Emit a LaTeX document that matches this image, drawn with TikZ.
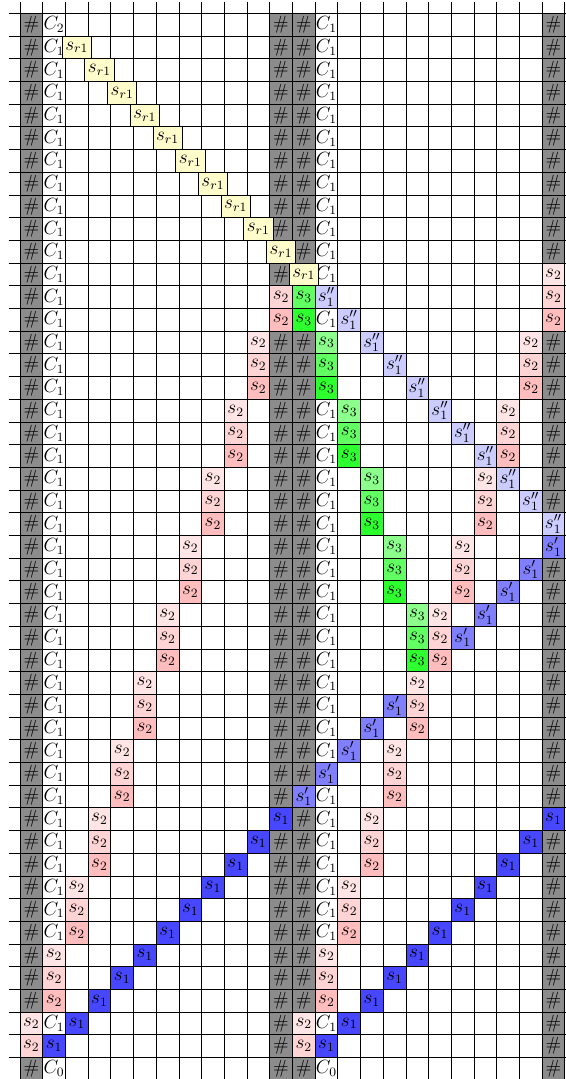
\documentclass[tikz,border=0pt]{standalone}
\definecolor{hashgray}{gray}{0.55}
\tikzset{
  x=0.5cm, y=0.5cm,
  gridln/.style={draw=black, line width=0.4pt},
  cellbase/.style={draw=black, line width=0.4pt, minimum size=0.5cm,
    inner xsep=1pt, inner ysep=0pt, anchor=center, font=\large},
  hs/.style={fill=hashgray},
  cn/.style={draw=none},
  sr/.style={fill=yellow!20, inner xsep=2pt},
  pk1/.style={fill=red!10}, pk2/.style={fill=red!17}, pk3/.style={fill=red!26},
  gr1/.style={fill=green!45}, gr2/.style={fill=green!62}, gr3/.style={fill=green!82},
  bA/.style={fill=blue!72}, bB/.style={fill=blue!50}, bC/.style={fill=blue!20},
}
\newcommand\cellat[4]{\node[cellbase,#3] (n#1x#2) at ({#2+0.5},{-#1-0.5}) {$#4$};}
\newcommand\cHash[2]{\cellat{#1}{#2}{hs}{\#}}
\newcommand\cCone[2]{\cellat{#1}{#2}{cn}{C_1}}
\newcommand\cPink[3]{\cellat{#1}{#2}{pk#3}{s_2}}
\newcommand\cGreen[3]{\cellat{#1}{#2}{gr#3}{s_3}}
\newcommand\cBa[2]{\cellat{#1}{#2}{bA}{s_1}}
\newcommand\cBb[2]{\cellat{#1}{#2}{bB}{s_1'}}
\newcommand\cBc[2]{\cellat{#1}{#2}{bC}{s_1''}}
\newcommand\cSr[2]{\cellat{#1}{#2}{sr}{s_{r1}}}
\begin{document}
\begin{tikzpicture}
\useasboundingbox (-0.881,0.586) rectangle (24.05,-46.95);
\clip (-0.881,0.586) rectangle (24.05,-46.95);
% grid
\foreach \r in {0,...,46} \draw[gridln] (-0.5,-\r) -- (24.5,-\r);
\foreach \c in {0,...,24} \draw[gridln] (\c,0.5) -- (\c,-47.5);
% row 0
\cHash{0}{0}\cellat{0}{1}{cn}{C_2}\cHash{0}{11}\cHash{0}{12}\cCone{0}{13}\cHash{0}{23}
% rows 1-9
\foreach \r in {1,...,9}{%
  \pgfmathtruncatemacro\k{\r+1}%
  \cHash{\r}{0}\cCone{\r}{1}\cHash{\r}{11}\cHash{\r}{12}\cCone{\r}{13}\cHash{\r}{23}%
  \cSr{\r}{\k}%
}
\cHash{10}{0}\cCone{10}{1}\cHash{10}{12}\cCone{10}{13}\cHash{10}{23}\cSr{10}{11}
\cHash{11}{0}\cCone{11}{1}\cHash{11}{11}\cCone{11}{13}\cPink{11}{23}{1}\cSr{11}{12}
\cHash{12}{0}\cCone{12}{1}\cPink{12}{11}{2}\cGreen{12}{12}{2}\cBc{12}{13}\cPink{12}{23}{2}
\cHash{13}{0}\cCone{13}{1}\cPink{13}{11}{3}\cGreen{13}{12}{3}\cCone{13}{13}\cBc{13}{14}\cPink{13}{23}{3}
\cHash{14}{0}\cCone{14}{1}\cPink{14}{10}{1}\cHash{14}{11}\cHash{14}{12}\cGreen{14}{13}{1}\cBc{14}{15}\cPink{14}{22}{1}\cHash{14}{23}
\cHash{15}{0}\cCone{15}{1}\cPink{15}{10}{2}\cHash{15}{11}\cHash{15}{12}\cGreen{15}{13}{2}\cBc{15}{16}\cPink{15}{22}{2}\cHash{15}{23}
\cHash{16}{0}\cCone{16}{1}\cPink{16}{10}{3}\cHash{16}{11}\cHash{16}{12}\cGreen{16}{13}{3}\cBc{16}{17}\cPink{16}{22}{3}\cHash{16}{23}
\cHash{17}{0}\cCone{17}{1}\cPink{17}{9}{1}\cHash{17}{11}\cHash{17}{12}\cCone{17}{13}\cGreen{17}{14}{1}\cBc{17}{18}\cPink{17}{21}{1}\cHash{17}{23}
\cHash{18}{0}\cCone{18}{1}\cPink{18}{9}{2}\cHash{18}{11}\cHash{18}{12}\cCone{18}{13}\cGreen{18}{14}{2}\cBc{18}{19}\cPink{18}{21}{2}\cHash{18}{23}
\cHash{19}{0}\cCone{19}{1}\cPink{19}{9}{3}\cHash{19}{11}\cHash{19}{12}\cCone{19}{13}\cGreen{19}{14}{3}\cBc{19}{20}\cPink{19}{21}{3}\cHash{19}{23}
\cHash{20}{0}\cCone{20}{1}\cPink{20}{8}{1}\cHash{20}{11}\cHash{20}{12}\cCone{20}{13}\cGreen{20}{15}{1}\cPink{20}{20}{1}\cBc{20}{21}\cHash{20}{23}
\cHash{21}{0}\cCone{21}{1}\cPink{21}{8}{2}\cHash{21}{11}\cHash{21}{12}\cCone{21}{13}\cGreen{21}{15}{2}\cPink{21}{20}{2}\cBc{21}{22}\cHash{21}{23}
\cHash{22}{0}\cCone{22}{1}\cPink{22}{8}{3}\cHash{22}{11}\cHash{22}{12}\cCone{22}{13}\cGreen{22}{15}{3}\cPink{22}{20}{3}\cBc{22}{23}
\cHash{23}{0}\cCone{23}{1}\cPink{23}{7}{1}\cHash{23}{11}\cHash{23}{12}\cCone{23}{13}\cGreen{23}{16}{1}\cPink{23}{19}{1}\cBb{23}{23}
\cHash{24}{0}\cCone{24}{1}\cPink{24}{7}{2}\cHash{24}{11}\cHash{24}{12}\cCone{24}{13}\cGreen{24}{16}{2}\cPink{24}{19}{2}\cBb{24}{22}\cHash{24}{23}
\cHash{25}{0}\cCone{25}{1}\cPink{25}{7}{3}\cHash{25}{11}\cHash{25}{12}\cCone{25}{13}\cGreen{25}{16}{3}\cPink{25}{19}{3}\cBb{25}{21}\cHash{25}{23}
\cHash{26}{0}\cCone{26}{1}\cPink{26}{6}{1}\cHash{26}{11}\cHash{26}{12}\cCone{26}{13}\cGreen{26}{17}{1}\cPink{26}{18}{1}\cBb{26}{20}\cHash{26}{23}
\cHash{27}{0}\cCone{27}{1}\cPink{27}{6}{2}\cHash{27}{11}\cHash{27}{12}\cCone{27}{13}\cGreen{27}{17}{2}\cPink{27}{18}{2}\cBb{27}{19}\cHash{27}{23}
\cHash{28}{0}\cCone{28}{1}\cPink{28}{6}{3}\cHash{28}{11}\cHash{28}{12}\cCone{28}{13}\cGreen{28}{17}{3}\cPink{28}{18}{3}\cHash{28}{23}
\cHash{29}{0}\cCone{29}{1}\cPink{29}{5}{1}\cHash{29}{11}\cHash{29}{12}\cCone{29}{13}\cPink{29}{17}{1}\cHash{29}{23}
\cHash{30}{0}\cCone{30}{1}\cPink{30}{5}{2}\cHash{30}{11}\cHash{30}{12}\cCone{30}{13}\cBb{30}{16}\cPink{30}{17}{2}\cHash{30}{23}
\cHash{31}{0}\cCone{31}{1}\cPink{31}{5}{3}\cHash{31}{11}\cHash{31}{12}\cCone{31}{13}\cBb{31}{15}\cPink{31}{17}{3}\cHash{31}{23}
\cHash{32}{0}\cCone{32}{1}\cPink{32}{4}{1}\cHash{32}{11}\cHash{32}{12}\cCone{32}{13}\cBb{32}{14}\cPink{32}{16}{1}\cHash{32}{23}
\cHash{33}{0}\cCone{33}{1}\cPink{33}{4}{2}\cHash{33}{11}\cHash{33}{12}\cBb{33}{13}\cPink{33}{16}{2}\cHash{33}{23}
\cHash{34}{0}\cCone{34}{1}\cPink{34}{4}{3}\cHash{34}{11}\cBb{34}{12}\cCone{34}{13}\cPink{34}{16}{3}\cHash{34}{23}
\cHash{35}{0}\cCone{35}{1}\cPink{35}{3}{1}\cBa{35}{11}\cHash{35}{12}\cCone{35}{13}\cPink{35}{15}{1}\cBa{35}{23}
\cHash{36}{0}\cCone{36}{1}\cPink{36}{3}{2}\cBa{36}{10}\cHash{36}{11}\cHash{36}{12}\cCone{36}{13}\cPink{36}{15}{2}\cBa{36}{22}\cHash{36}{23}
\cHash{37}{0}\cCone{37}{1}\cPink{37}{3}{3}\cBa{37}{9}\cHash{37}{11}\cHash{37}{12}\cCone{37}{13}\cPink{37}{15}{3}\cBa{37}{21}\cHash{37}{23}
\cHash{38}{0}\cCone{38}{1}\cPink{38}{2}{1}\cBa{38}{8}\cHash{38}{11}\cHash{38}{12}\cCone{38}{13}\cPink{38}{14}{1}\cBa{38}{20}\cHash{38}{23}
\cHash{39}{0}\cCone{39}{1}\cPink{39}{2}{2}\cBa{39}{7}\cHash{39}{11}\cHash{39}{12}\cCone{39}{13}\cPink{39}{14}{2}\cBa{39}{19}\cHash{39}{23}
\cHash{40}{0}\cCone{40}{1}\cPink{40}{2}{3}\cBa{40}{6}\cHash{40}{11}\cHash{40}{12}\cCone{40}{13}\cPink{40}{14}{3}\cBa{40}{18}\cHash{40}{23}
\cHash{41}{0}\cPink{41}{1}{1}\cBa{41}{5}\cHash{41}{11}\cHash{41}{12}\cPink{41}{13}{1}\cBa{41}{17}\cHash{41}{23}
\cHash{42}{0}\cPink{42}{1}{2}\cBa{42}{4}\cHash{42}{11}\cHash{42}{12}\cPink{42}{13}{2}\cBa{42}{16}\cHash{42}{23}
\cHash{43}{0}\cPink{43}{1}{3}\cBa{43}{3}\cHash{43}{11}\cHash{43}{12}\cPink{43}{13}{3}\cBa{43}{15}\cHash{43}{23}
\cPink{44}{0}{1}\cCone{44}{1}\cBa{44}{2}\cHash{44}{11}\cPink{44}{12}{1}\cCone{44}{13}\cBa{44}{14}\cHash{44}{23}
\cPink{45}{0}{2}\cBa{45}{1}\cHash{45}{11}\cPink{45}{12}{2}\cBa{45}{13}\cHash{45}{23}
\cHash{46}{0}\cellat{46}{1}{cn}{C_0}\cHash{46}{11}\cHash{46}{12}\cellat{46}{13}{cn}{C_0}\cHash{46}{23}
\end{tikzpicture}
\end{document}
